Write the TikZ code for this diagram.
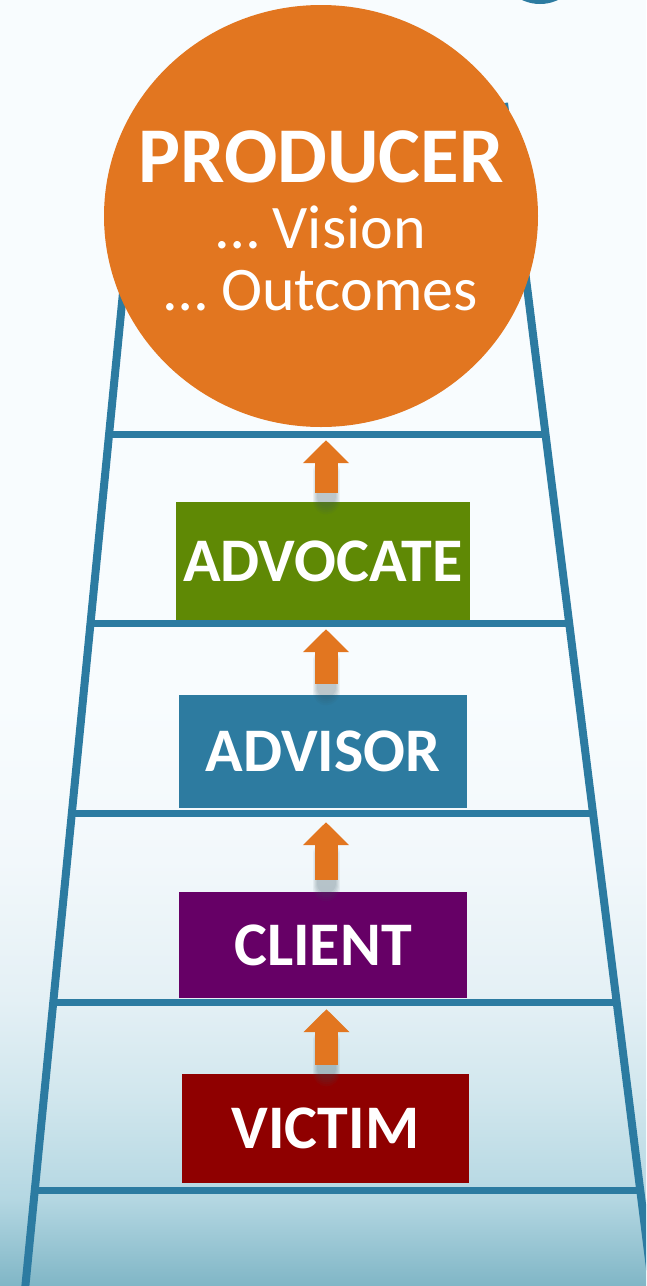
\documentclass[tikz,border=0pt]{standalone}
\usepackage{fontspec}
\setmainfont{Carlito}
\usetikzlibrary{shapes.geometric,arrows.meta,calc}
\definecolor{ladderblue}{HTML}{2C7BA1}
\definecolor{prodorange}{HTML}{E27620}
\definecolor{advgreen}{HTML}{5F8905}
\definecolor{advblue}{HTML}{2D7BA0}
\definecolor{clientpurple}{HTML}{660066}
\definecolor{victimred}{HTML}{8F0000}
\definecolor{bgtop}{HTML}{F8FCFE}
\definecolor{bgmidA}{HTML}{F2F8FB}
\definecolor{bgmidB}{HTML}{E4F0F5}
\definecolor{bgmidC}{HTML}{D0E6ED}
\definecolor{bgmidD}{HTML}{B4D7E2}
\definecolor{bgbot}{HTML}{80B6C6}
\definecolor{shadowgray}{HTML}{3A5560}
\begin{document}
\begin{tikzpicture}[x=1pt,y=-1pt,
  rail/.style={draw=ladderblue, line width=8pt},
  rungline/.style={draw=ladderblue, line width=7pt, line cap=butt},
  stage/.style={rectangle, inner sep=0pt, text=white,
    font=\bfseries\fontsize{62}{62}\selectfont},
  bigarrow/.style={draw=prodorange, line width=23pt, line cap=butt,
    -{Triangle[width=45pt,length=23pt]}},
  arrowshadow/.style={draw=shadowgray, line cap=round, opacity=0.07},
  prodtext/.style={anchor=base, text=white}
]
\useasboundingbox (0,0) rectangle (646,1286);
\clip (0,0) rectangle (646,1286);

% background
\fill[bgtop] (0,0) rectangle (646,700);
\shade[top color=bgtop, bottom color=bgmidA] (0,700) rectangle (646,860);
\shade[top color=bgmidA, bottom color=bgmidB] (0,859) rectangle (646,1000);
\shade[top color=bgmidB, bottom color=bgmidC] (0,999) rectangle (646,1100);
\shade[top color=bgmidC, bottom color=bgmidD] (0,1099) rectangle (646,1200);
\shade[top color=bgmidD, bottom color=bgbot] (0,1199) rectangle (646,1286);

% top-right fragment
\fill[ladderblue] (540,-38) circle (42);

% ladder rails
\coordinate (LT) at (138,140);
\coordinate (LB) at (24,1300);
\coordinate (RT) at (504,103);
\coordinate (RB) at (654,1300);
\draw[rail] (LT) -- (LB);
\draw[rail] (RT) -- (RB);

% rungs
\coordinate (L1) at (109,434);  \coordinate (R1) at (545,434);
\coordinate (L2) at (91,623);   \coordinate (R2) at (569,623);
\coordinate (L3) at (72,813);   \coordinate (R3) at (593,813);
\coordinate (L4) at (53,1002);  \coordinate (R4) at (617,1002);
\coordinate (L5) at (35,1190);  \coordinate (R5) at (640,1190);
\foreach \i in {1,...,5} \draw[rungline] (L\i) -- (R\i);

% producer circle
\node[ellipse, fill=prodorange, inner sep=0pt,
  minimum width=434pt, minimum height=422pt] (producer) at (321,216) {};
\node[prodtext, font=\bfseries\fontsize{79}{79}\selectfont] (prodtitle) at (321,182) {PRODUCER};
\node[prodtext, font=\fontsize{62}{62}\selectfont] (prodvision) at (321,248) {… Vision};
\node[prodtext, font=\fontsize{62}{62}\selectfont] (prodoutcomes) at (321,310) {… Outcomes};

% stage boxes
\node[stage, fill=advgreen, minimum width=294pt, minimum height=118pt] (advocate) at (323,561) {ADVOCATE};
\node[stage, fill=advblue, minimum width=288pt, minimum height=113pt] (advisor) at (323,751.5) {ADVISOR};
\node[stage, fill=clientpurple, minimum width=288pt, minimum height=106pt] (client) at (323,945) {CLIENT};
\node[stage, fill=victimred, minimum width=287pt, minimum height=109pt] (victim) at (325.5,1128.5) {VICTIM};

% arrows with soft shadows
\foreach \lo/\hi/\sa/\sb/\dx in {advocate/producer/9/13/3, advisor/advocate/11/9/3, client/advisor/12/14/3, victim/client/9/11/1}{
  \foreach \k in {1,2,3,4,5}{
    \draw[arrowshadow, line width=\k pt*2+17pt, shorten <=\sa pt-\k pt-3pt, shorten >=\sb pt+32pt]
      ([xshift=\dx pt]\lo.north) -- ([xshift=\dx pt]\lo.north |- \hi.south);
  }
  \draw[bigarrow, shorten <=\sa pt, shorten >=\sb pt]
    ([xshift=\dx pt]\lo.north) -- ([xshift=\dx pt]\lo.north |- \hi.south);
}
\end{tikzpicture}
\end{document}
